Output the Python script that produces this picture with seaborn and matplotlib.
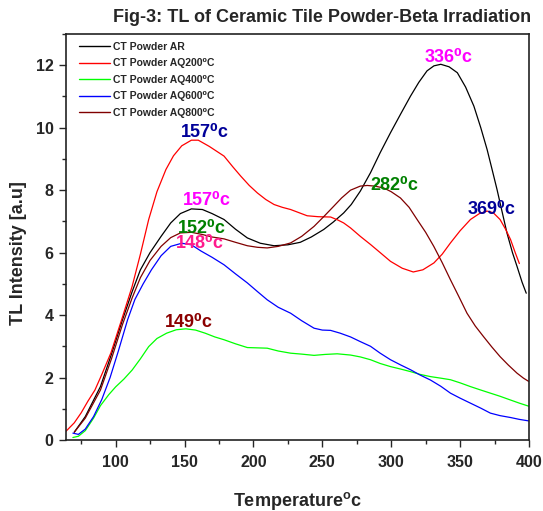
import numpy as np
import pandas as pd
import matplotlib
matplotlib.use("Agg")
import matplotlib.pyplot as plt
from matplotlib import font_manager
import seaborn as sns
from matplotlib.ticker import MultipleLocator

# ---- data ----
ar_t = [70, 78, 89, 97, 105, 112, 118, 125, 133, 140, 147, 155, 163, 170, 178.7, 187, 195.6, 205, 215, 225,
        234, 242, 251, 258, 265.5, 271, 277.6, 285, 292, 299.5, 307, 314, 320, 326, 331, 336, 342, 348, 354,
        360, 365, 369.6, 373, 376.8, 380, 384, 388, 391.3, 395, 398]
ar_i = [0.25, 0.75, 1.71, 2.75, 3.85, 4.75, 5.45, 6.0, 6.52, 6.95, 7.25, 7.4, 7.38, 7.25, 7.06, 6.75, 6.47, 6.3,
        6.22, 6.25, 6.33, 6.5, 6.74, 6.98, 7.27, 7.54, 7.97, 8.56, 9.2, 9.84, 10.45, 11.01, 11.45, 11.82, 11.98,
        12.03, 11.95, 11.76, 11.3, 10.69, 10.0, 9.3, 8.7, 8.02, 7.4, 6.63, 6.0, 5.56, 5.05, 4.7]

aq200_t = [64, 70, 75, 80, 85, 90, 96.6, 104, 112, 118, 124, 130, 136.5, 142, 148, 155, 160, 168, 178.7, 185,
           190.8, 197, 202.9, 209, 215, 221, 227, 233, 239, 247, 256, 261, 265.5, 270.5, 277.6, 285, 292, 299.5,
           308, 316, 323, 331, 337, 343, 350, 357.5, 364, 369.6, 374, 379, 383, 386.6, 390, 393]
aq200_i = [0.28, 0.55, 0.87, 1.25, 1.6, 2.1, 2.79, 3.8, 4.92, 5.95, 7.06, 7.95, 8.66, 9.1, 9.42, 9.6, 9.6, 9.4,
           9.09, 8.75, 8.45, 8.15, 7.91, 7.7, 7.54, 7.45, 7.38, 7.28, 7.18, 7.15, 7.14, 7.05, 6.95, 6.79, 6.52,
           6.26, 6.0, 5.72, 5.5, 5.38, 5.45, 5.67, 5.95, 6.31, 6.7, 7.06, 7.25, 7.33, 7.28, 7.06, 6.75, 6.42,
           6.0, 5.65]

aq400_t = [69, 73, 78, 84, 89, 95, 100, 106, 112, 118, 124, 130, 137, 144, 151, 158, 165, 172, 178.7, 187,
           195.6, 203, 210, 218, 227, 235, 244, 252, 260.8, 270.5, 277.6, 285, 292, 299.5, 307, 314, 321, 328.5,
           336, 343, 350, 357.5, 365, 372, 379, 386.6, 393, 400]
aq400_i = [0.08, 0.12, 0.3, 0.7, 1.1, 1.45, 1.7, 1.95, 2.24, 2.6, 2.99, 3.25, 3.42, 3.53, 3.56, 3.52, 3.42, 3.3,
           3.21, 3.08, 2.96, 2.95, 2.94, 2.85, 2.78, 2.75, 2.71, 2.74, 2.76, 2.72, 2.66, 2.57, 2.45, 2.35, 2.27,
           2.19, 2.1, 2.03, 1.98, 1.93, 1.83, 1.71, 1.6, 1.5, 1.4, 1.28, 1.18, 1.08]

aq600_t = [69, 73, 78, 84, 90, 96, 102, 108.7, 114, 120, 126, 133, 140, 148, 155, 162, 170, 178.7, 187, 195.6,
           203, 210, 218, 227, 235, 244, 250, 256, 263, 270.5, 277.6, 285, 292, 299.5, 307, 314, 321, 328.5, 336,
           343, 350, 357.5, 365, 372, 379, 386.6, 393, 400]
aq600_i = [0.22, 0.18, 0.35, 0.75, 1.3, 2.0, 2.85, 3.85, 4.5, 5.0, 5.45, 5.9, 6.2, 6.3, 6.25, 6.05, 5.85, 5.61,
           5.32, 5.03, 4.75, 4.49, 4.25, 4.06, 3.82, 3.58, 3.52, 3.51, 3.42, 3.3, 3.15, 3.0, 2.78, 2.57, 2.4,
           2.25, 2.08, 1.92, 1.72, 1.5, 1.34, 1.18, 1.02, 0.86, 0.78, 0.72, 0.66, 0.61]

aq800_t = [70, 78, 89, 97, 105, 112, 118, 125, 133, 140, 147, 155, 163, 170, 178.7, 187, 195.6, 203, 210, 218,
           227, 235, 244, 251, 258.4, 264, 270.5, 277.6, 282.6, 288, 294.6, 300, 306.7, 313, 318.8, 325, 330.9,
           337, 343, 349, 355, 361, 367, 373, 379, 385, 391.3, 396, 400]
aq800_i = [0.25, 0.7, 1.6, 2.6, 3.7, 4.55, 5.2, 5.75, 6.2, 6.48, 6.63, 6.65, 6.58, 6.5, 6.44, 6.33, 6.22, 6.17,
           6.15, 6.2, 6.31, 6.52, 6.84, 7.15, 7.49, 7.75, 8.0, 8.13, 8.15, 8.13, 8.07, 7.95, 7.75, 7.45, 7.06,
           6.65, 6.2, 5.68, 5.13, 4.6, 4.06, 3.65, 3.31, 2.98, 2.67, 2.4, 2.14, 1.98, 1.87]

series_names = ["CT Powder AR", "CT Powder AQ200\u2070C", "CT Powder AQ400\u2070C",
                "CT Powder AQ600\u2070C", "CT Powder AQ800\u2070C"]
series_colors = ["#000000", "#ff0000", "#00ff00", "#0000ff", "#800000"]

peak_labels = ["157", "157", "152", "148", "149", "336", "282", "369"]
peak_pos_t = [164.4, 166.2, 162.9, 161.1, 153.1, 341.9, 302.4, 373.1]
peak_pos_i = [9.69, 7.51, 6.64, 6.16, 3.63, 12.1, 8.02, 7.25]
peak_colors = ["#000099", "#ff00ff", "#008000", "#ff1a8c", "#8b0000", "#ff00ff", "#008000", "#000099"]

# ---- build long table ----
frames = []
for name, t, i in zip(series_names,
                      [ar_t, aq200_t, aq400_t, aq600_t, aq800_t],
                      [ar_i, aq200_i, aq400_i, aq600_i, aq800_i]):
    frames.append(pd.DataFrame({"Temperature": t, "Intensity": i, "Sample": name}))
df = pd.concat(frames, ignore_index=True)

sns.set_style("ticks")
plt.rcParams["font.family"] = ["Liberation Sans", "DejaVu Sans"]
plt.rcParams["font.weight"] = "bold"
plt.rcParams["mathtext.fontset"] = "custom"
plt.rcParams["mathtext.rm"] = "Liberation Sans:bold"
plt.rcParams["mathtext.it"] = "Liberation Sans:bold"
plt.rcParams["mathtext.bf"] = "Liberation Sans:bold"

available = {f.name for f in font_manager.fontManager.ttflist}
if "Liberation Sans Narrow" in available:
    peak_family = ["Liberation Sans Narrow", "DejaVu Sans"]
    peak_size = 14
else:
    peak_family = ["Liberation Sans", "DejaVu Sans"]
    peak_size = 13

fig = plt.figure(figsize=(5.43, 5.11), dpi=100)
ax = fig.add_axes([66 / 543, 1 - 440 / 511, 463 / 543, 406 / 511])

sns.lineplot(data=df, x="Temperature", y="Intensity", hue="Sample", hue_order=series_names,
             palette=dict(zip(series_names, series_colors)), sort=False, estimator=None,
             linewidth=0.9, ax=ax)

ax.set_xlim(64, 400)
ax.set_ylim(0, 13)
ax.xaxis.set_major_locator(MultipleLocator(50))
ax.xaxis.set_minor_locator(MultipleLocator(25))
ax.yaxis.set_major_locator(MultipleLocator(2))
ax.yaxis.set_minor_locator(MultipleLocator(1))
ax.tick_params(axis="both", which="major", length=5, width=1, direction="out", labelsize=11.5)
ax.tick_params(axis="x", which="major", pad=6)
ax.tick_params(axis="y", which="major", pad=4)
ax.tick_params(axis="both", which="minor", length=3, width=1, direction="out")
for lab in ax.get_xticklabels() + ax.get_yticklabels():
    lab.set_fontweight("bold")
for sp in ax.spines.values():
    sp.set_linewidth(1.2)
    sp.set_color("#222222")

ax.set_xlabel("Temperature$^{o}$c", fontsize=13, fontweight="bold", labelpad=14)
ax.set_ylabel("TL Intensity [a.u]", fontsize=13, fontweight="bold")
ax.yaxis.set_label_coords((27 - 66) / 463, (440 - 253) / 406)
fig.text(322 / 543, 1 - 17 / 511, "Fig-3: TL of Ceramic Tile Powder-Beta Irradiation",
         fontsize=13, fontweight="bold", ha="center", va="center")

for lab, t, i, c in zip(peak_labels, peak_pos_t, peak_pos_i, peak_colors):
    ax.text(t, i, lab + "\u2070c", color=c, fontsize=peak_size, fontweight="bold",
            family=peak_family, ha="center", va="baseline", zorder=3)

leg = ax.legend(loc="upper left", bbox_to_anchor=(0.012, 1.0), fontsize=7.5, frameon=True,
                handlelength=2.9, handletextpad=0.3, labelspacing=0.62, borderpad=0.25)
leg.get_frame().set_facecolor("white")
leg.get_frame().set_edgecolor("none")
leg.get_frame().set_alpha(1)
leg.set_zorder(5)
for txt in leg.get_texts():
    txt.set_fontweight("bold")
for line in leg.get_lines():
    line.set_linewidth(1.0)

fig.savefig("out.png", dpi=100)
